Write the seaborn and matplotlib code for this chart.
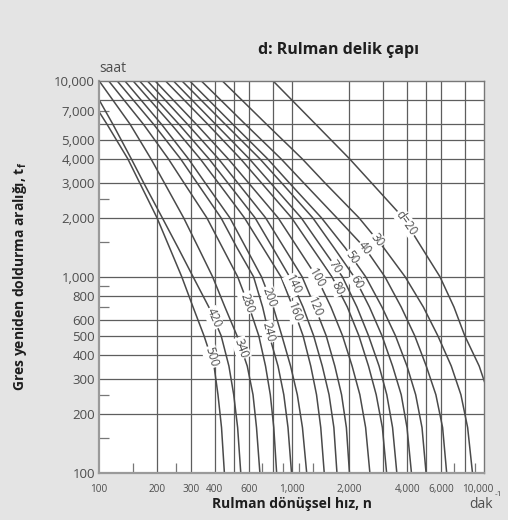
import numpy as np
import pandas as pd
import matplotlib
matplotlib.use("Agg")
import matplotlib.pyplot as plt
import matplotlib.transforms as mtransforms
import seaborn as sns
from matplotlib.ticker import FixedLocator, FixedFormatter, NullFormatter

# ---------------- data ----------------
d_values = [20, 30, 40, 50, 60, 70, 80, 100, 120, 140, 160, 200, 240, 280, 340, 420, 500]
t_levels = [10000, 6000, 4000, 3000, 2000, 1400, 1000, 700, 500, 350, 250, 170, 100]

n_d20 = [800, 1334, 2000, 2612, 3802, 4764, 5902, 6982, 7943, 9441, 10593, 12023, 14125]
n_d30 = [436, 741, 1135, 1496, 2239, 3020, 3890, 4842, 5754, 6761, 7586, 8222, 8710]
n_d40 = [339, 575, 881, 1161, 1718, 2410, 3055, 3715, 4365, 5012, 5623, 6095, 6397]
n_d50 = [295, 495, 750, 977, 1429, 1905, 2427, 2951, 3467, 3981, 4416, 4764, 5000]
n_d60 = [269, 452, 684, 891, 1288, 1667, 2113, 2541, 2951, 3350, 3715, 3981, 4198]
n_d70 = [243, 403, 603, 780, 1122, 1445, 1837, 2188, 2512, 2851, 3126, 3350, 3524]
n_d80 = [221, 367, 543, 700, 1000, 1282, 1622, 1950, 2239, 2512, 2754, 2965, 3119]
n_d100 = [195, 320, 468, 600, 851, 1079, 1349, 1603, 1841, 2065, 2265, 2427, 2553]
n_d120 = [178, 288, 417, 527, 733, 918, 1135, 1324, 1514, 1679, 1820, 1928, 2000]
n_d140 = [162, 260, 372, 468, 646, 800, 977, 1148, 1303, 1445, 1567, 1660, 1722]
n_d160 = [150, 237, 335, 418, 569, 713, 881, 1016, 1148, 1259, 1349, 1419, 1479]
n_d200 = [136, 211, 291, 357, 478, 581, 698, 804, 891, 989, 1072, 1140, 1199]
n_d240 = [124, 192, 265, 324, 430, 522, 635, 708, 767, 851, 912, 959, 1000]
n_d280 = [112, 170, 229, 277, 363, 439, 525, 603, 676, 733, 776, 809, 837]
n_d340 = [100, 145, 186, 219, 275, 329, 389, 451, 521, 589, 631, 658, 685]
n_d420 = [88, 118, 147, 171, 213, 258, 308, 372, 431, 473, 501, 525, 545]
n_d500 = [79, 110, 141, 163, 200, 233, 269, 308, 351, 396, 415, 433, 448]

label_t = [1880, 1540, 1400, 1260, 940, 1120, 875, 984, 700, 906, 661, 787, 523, 735, 433, 615, 389]

x_tick_values = [100, 200, 300, 400, 600, 1000, 2000, 4000, 6000, 10000]
x_tick_labels = ["100", "200", "300", "400", "600", "1,000", "2,000", "4,000", "6,000", "10,000"]
x_grid_values = [200, 300, 400, 500, 600, 800, 1000, 2000, 3000, 4000, 5000, 6000, 8000]
x_short_ticks = [150, 250, 700, 900, 1100, 1300, 7000, 9000]

y_tick_values = [100, 200, 300, 400, 500, 600, 800, 1000, 2000, 3000, 4000, 5000, 7000, 10000]
y_tick_labels = ["100", "200", "300", "400", "500", "600", "800", "1,000", "2,000", "3,000",
                 "4,000", "5,000", "7,000", "10,000"]
y_grid_values = [200, 300, 400, 500, 600, 800, 1000, 2000, 3000, 4000, 5000, 6000, 8000]
y_short_ticks = [150, 250, 700, 900, 1500, 2500, 7000]

curves = [n_d20, n_d30, n_d40, n_d50, n_d60, n_d70, n_d80, n_d100, n_d120, n_d140,
          n_d160, n_d200, n_d240, n_d280, n_d340, n_d420, n_d500]

# ---------------- figure ----------------
sns.set_theme(style="white")
plt.rcParams["font.family"] = ["Open Sans", "DejaVu Sans"]
plt.rcParams["mathtext.fontset"] = "custom"
plt.rcParams["mathtext.rm"] = "Open Sans"
plt.rcParams["mathtext.bf"] = "Open Sans:bold"
plt.rcParams["mathtext.it"] = "Open Sans:italic"

BG = "#e4e4e4"
GRID = "#5e5e5e"
CURVE = "#4a4a4a"
TXT = "#4d4d4d"
DARK = "#1e1e1e"

fig = plt.figure(figsize=(5.08, 5.20), dpi=100, facecolor=BG)
ax = fig.add_axes([99 / 508, 1 - 472.7 / 520, (484 - 99) / 508, (472.7 - 80.7) / 520])
ax.set_facecolor("white")
ax.set_xscale("log")
ax.set_yscale("log")
ax.set_xlim(100, 10000)
ax.set_ylim(100, 10000)

for gx in x_grid_values:
    ax.axvline(gx, color=GRID, lw=0.9, zorder=1)
for gy in y_grid_values:
    ax.axhline(gy, color=GRID, lw=0.9, zorder=1)

rows = []
for d, ns in zip(d_values, curves):
    for n, t in zip(ns, t_levels):
        rows.append({"d": d, "n": n, "t": t})
df = pd.DataFrame(rows)
sns.lineplot(data=df, x="n", y="t", units="d", estimator=None, sort=False,
             color=CURVE, lw=1.1, ax=ax, zorder=2, legend=False)

# curve labels
for d, ns, lt in zip(d_values, curves, label_t):
    lt_arr = np.log10(np.array(t_levels, dtype=float))[::-1]
    ln_arr = np.log10(np.array(ns, dtype=float))[::-1]

    def n_at(t):
        return 10 ** np.interp(np.log10(t), lt_arr, ln_arr)

    nl = n_at(lt)
    p1 = ax.transData.transform((n_at(lt * 1.2), lt * 1.2))
    p2 = ax.transData.transform((n_at(lt / 1.2), lt / 1.2))
    ang = np.degrees(np.arctan2(p2[1] - p1[1], p2[0] - p1[0]))
    txt = f"d={d}" if d == 20 else str(d)
    ax.text(nl, lt, txt, rotation=ang, rotation_mode="anchor", ha="center", va="center",
            fontsize=8.5, color=TXT, zorder=4,
            bbox=dict(boxstyle="square,pad=0.08", fc="white", ec="none"))

# ticks
ax.xaxis.set_major_locator(FixedLocator(x_tick_values))
ax.xaxis.set_major_formatter(FixedFormatter(x_tick_labels))
ax.xaxis.set_minor_locator(FixedLocator(x_short_ticks))
ax.xaxis.set_minor_formatter(NullFormatter())
ax.yaxis.set_major_locator(FixedLocator(y_tick_values))
ax.yaxis.set_major_formatter(FixedFormatter(y_tick_labels))
ax.yaxis.set_minor_locator(FixedLocator(y_short_ticks))
ax.yaxis.set_minor_formatter(NullFormatter())
ax.yaxis.remove_overlapping_locs = False
ax.xaxis.remove_overlapping_locs = False

ax.tick_params(axis="x", which="major", direction="out", length=3, width=0.9,
               color="#777777", labelsize=7.2, labelcolor=TXT, pad=5)
ax.tick_params(axis="x", which="minor", direction="in", length=7, width=0.9,
               color="#777777", bottom=True)
ax.tick_params(axis="y", which="major", length=0, labelsize=9.5, labelcolor=TXT, pad=3)
ax.tick_params(axis="y", which="minor", direction="in", length=7, width=0.9,
               color="#777777", left=True)

# nudge the last x tick label slightly left, as in the reference
last_tick = ax.xaxis.get_major_ticks()[-1]
last_tick.label1.set_transform(last_tick.label1.get_transform() +
                               mtransforms.ScaledTranslation(-6 / 100, 0, fig.dpi_scale_trans))

for side in ["left", "bottom"]:
    ax.spines[side].set_color("#9a9a9a")
    ax.spines[side].set_linewidth(1.6)
for side in ["top", "right"]:
    ax.spines[side].set_color("#777777")
    ax.spines[side].set_linewidth(1.0)
for s in ax.spines.values():
    s.set_zorder(5)

ax.set_xlabel("")
ax.set_ylabel("")

fig.text(338 / 508, 1 - 50 / 520, "d: Rulman delik çapı", ha="center", va="center",
         fontsize=11.5, fontweight="bold", color=DARK)
fig.text(99 / 508, 1 - 69 / 520, "saat", ha="left", va="center", fontsize=10, color=TXT)
fig.text(291.5 / 508, 1 - 504 / 520, "Rulman dönüşsel hız, n", ha="center", va="center",
         fontsize=10, fontweight="bold", color=DARK)
fig.text(493 / 508, 1 - 504 / 520, "dak", ha="right", va="center", fontsize=10, color=TXT)
fig.text(495 / 508, 1 - 495 / 520, "-1", ha="left", va="center", fontsize=6, color=TXT)
fig.text(20 / 508, 1 - 276.7 / 520, r"Gres yeniden doldurma aralığı, t$_\mathbf{f}$",
         ha="center", va="center", rotation=90, fontsize=10, fontweight="bold", color=DARK)

fig.savefig("out.png", dpi=100, facecolor=BG)
